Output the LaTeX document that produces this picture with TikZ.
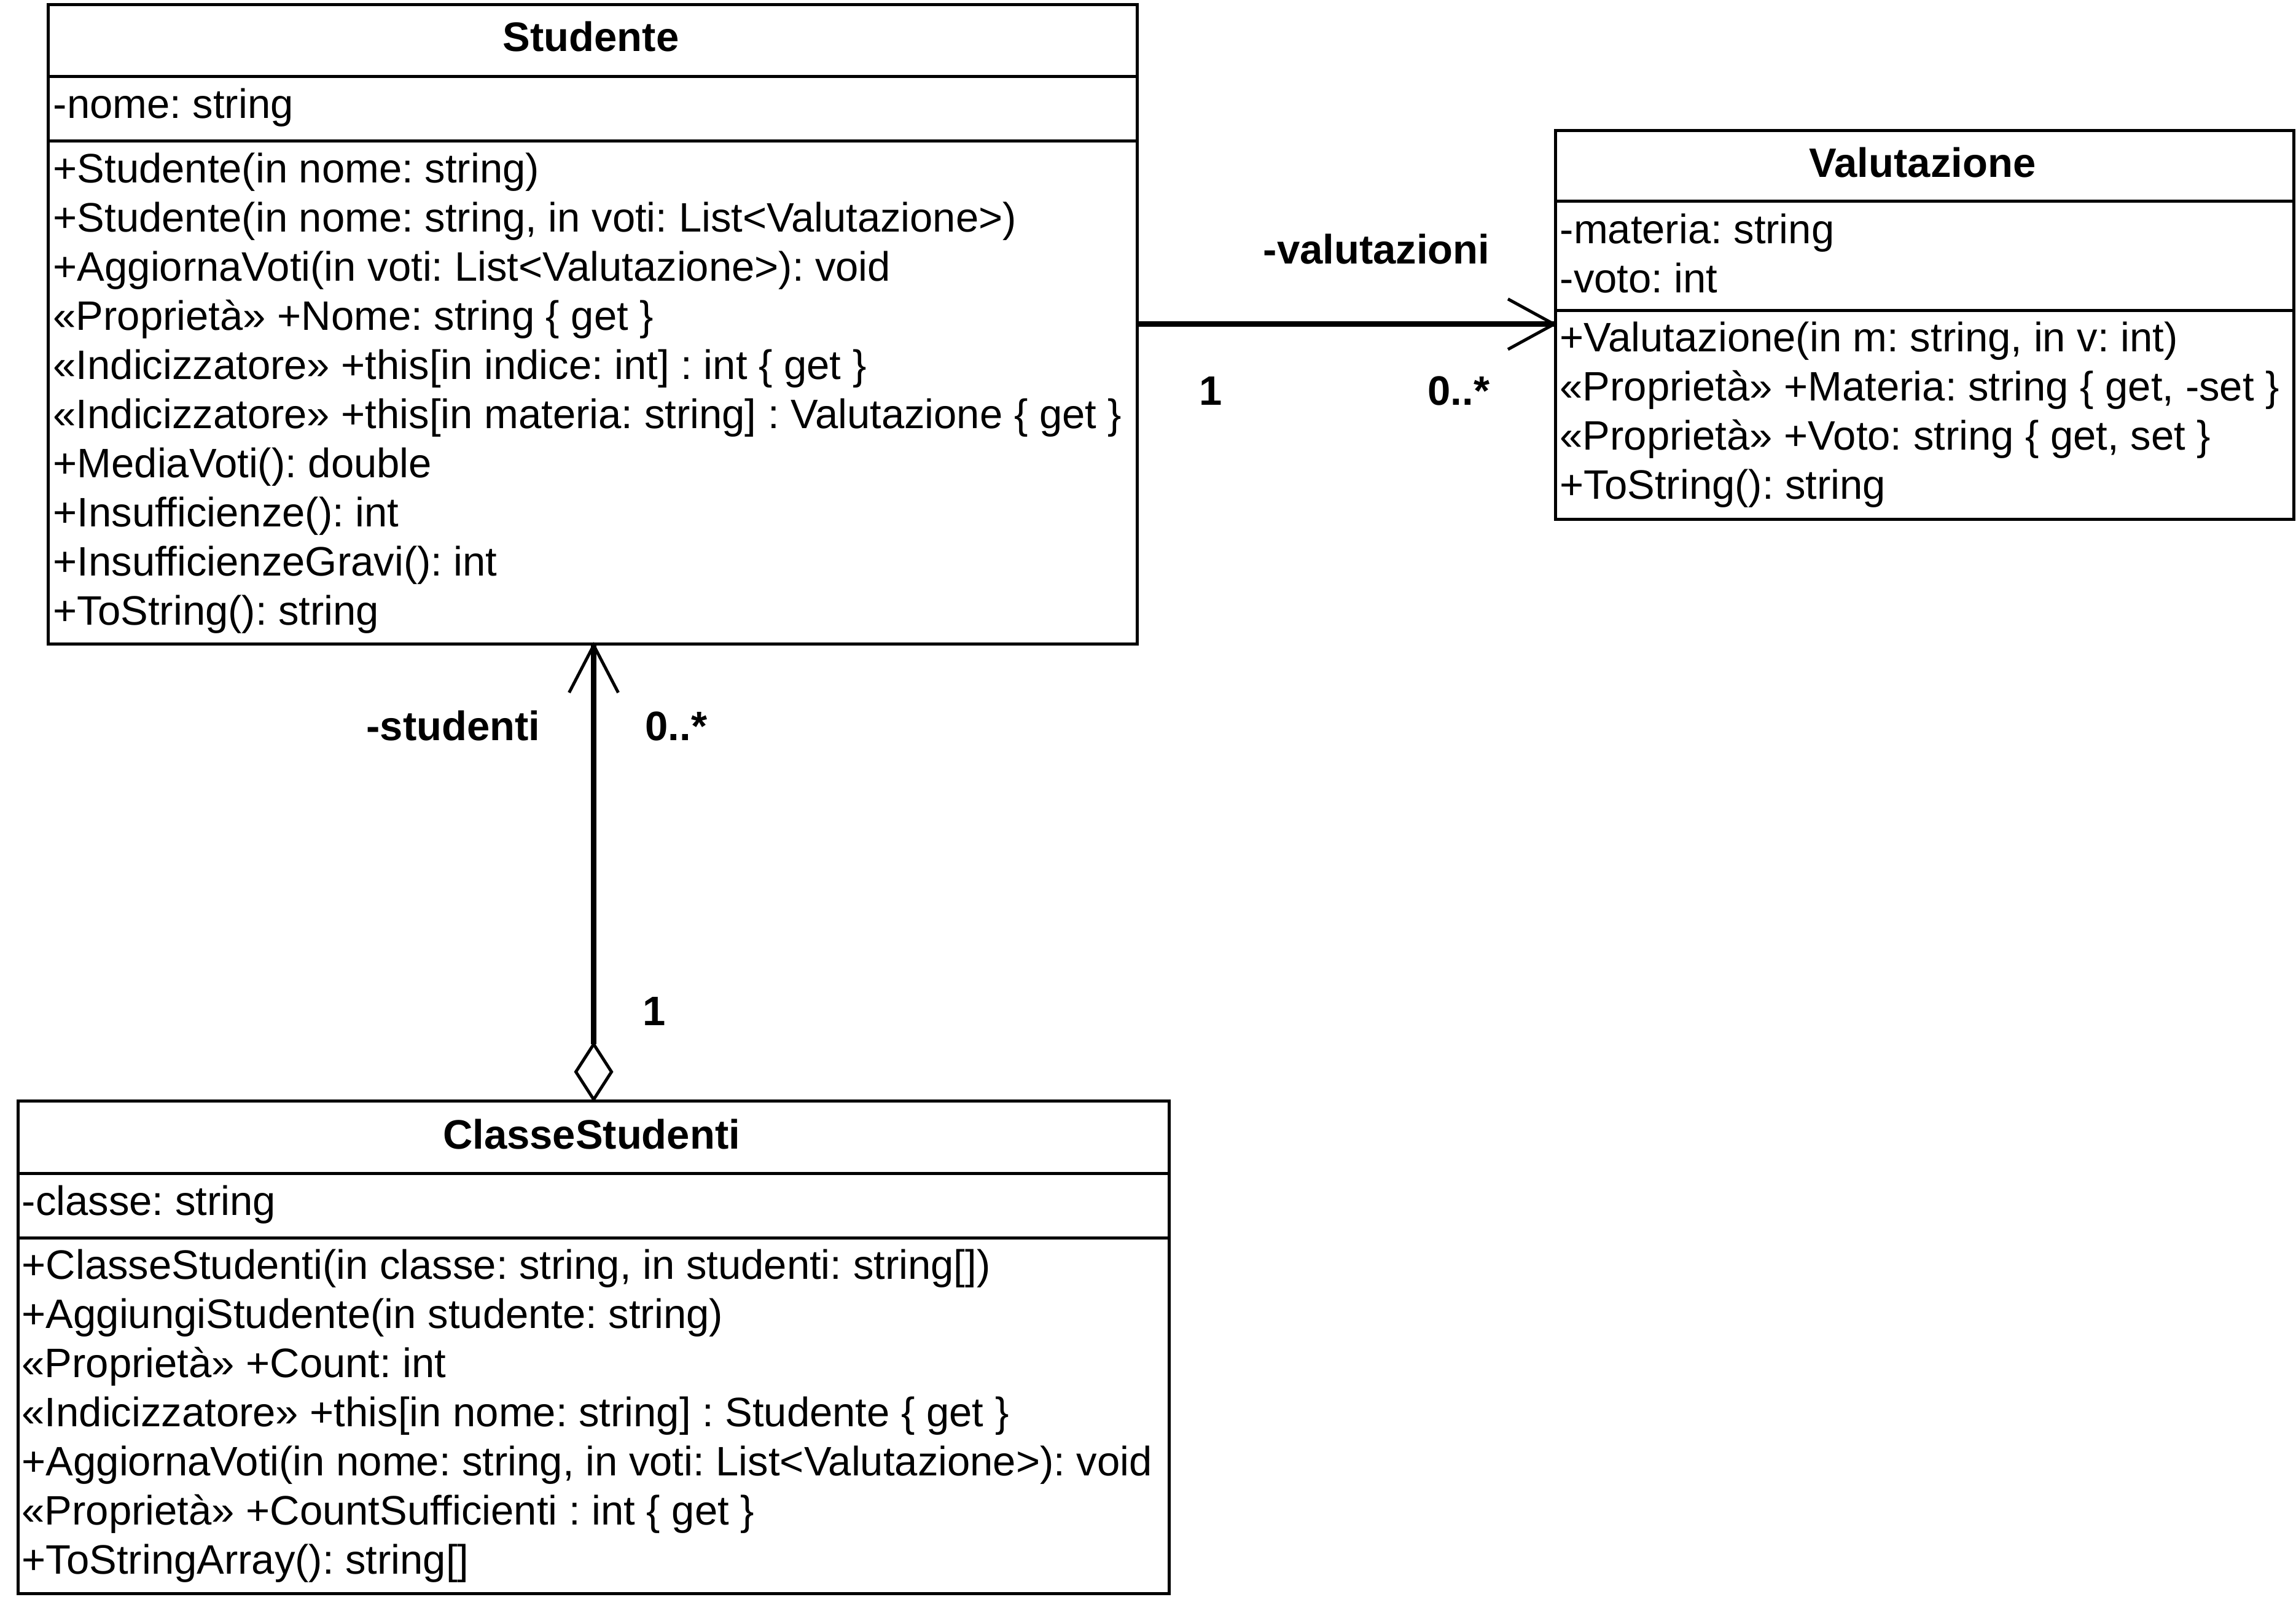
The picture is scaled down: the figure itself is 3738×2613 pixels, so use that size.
\documentclass[tikz,border=0pt]{standalone}
\usepackage{fontspec}
\setmainfont{Liberation Sans}[Ligatures=NoCommon]
\usetikzlibrary{calc}
\frenchspacing
\begin{document}
\begin{tikzpicture}[x=0.01cm, y=-0.01cm,
  box/.style={draw, line width=0.05cm, anchor=north west, inner sep=0pt},
  sep/.style={line width=0.05cm},
  row/.style={anchor=base west, inner sep=0pt, font=\fontsize{19.05pt}{22pt}\selectfont},
  title/.style={anchor=base, inner sep=0pt, font=\fontsize{19.05pt}{22pt}\selectfont\bfseries},
  role/.style={anchor=base, inner sep=0pt, font=\fontsize{19.05pt}{22pt}\selectfont\bfseries},
  assoc/.style={line width=0.09cm},
  head/.style={line width=0.05cm, line join=miter},
]
\useasboundingbox (0,0) rectangle (3738,2613);

% ---------- class Studente ----------
\node[box, minimum width=17.72cm, minimum height=10.40cm] (stud) at (76,5) {};
\node[title] (studT) at (962,84) {Studente};
\draw[sep] (stud.west |- 0,125) -- (stud.east |- 0,125);
\node[row] (s0) at (86,193) {-nome: string};
\draw[sep] (stud.west |- 0,230) -- (stud.east |- 0,230);
\node[row] (s1) at (86,298) {+Studente(in nome: string)};
\node[row] (s2) at (86,378) {+Studente(in nome: string, in voti: List<Valutazione>)};
\node[row] (s3) at (86,458) {+AggiornaVoti(in voti: List<Valutazione>): void};
\node[row] (s4) at (86,538) {«Proprietà» +Nome: string \{ get \}};
\node[row] (s5) at (86,618) {«Indicizzatore» +this[in indice: int] : int \{ get \}};
\node[row] (s6) at (86,698) {«Indicizzatore» +this[in materia: string] : Valutazione \{ get \}};
\node[row] (s7) at (86,778) {+MediaVoti(): double};
\node[row] (s8) at (86,858) {+Insufficienze(): int};
\node[row] (s9) at (86,938) {+InsufficienzeGravi(): int};
\node[row] (s10) at (86,1018) {+ToString(): string};

% ---------- class Valutazione ----------
\node[box, minimum width=12.01cm, minimum height=6.33cm] (valu) at (2530,210) {};
\node[title] (valuT) at (3130,289) {Valutazione};
\draw[sep] (valu.west |- 0,328) -- (valu.east |- 0,328);
\node[row] (v0) at (2539,397) {-materia: string};
\node[row] (v1) at (2539,477) {-voto: int};
\draw[sep] (valu.west |- 0,506) -- (valu.east |- 0,506);
\node[row] (v2) at (2539,573) {+Valutazione(in m: string, in v: int)};
\node[row] (v3) at (2539,653) {«Proprietà» +Materia: string \{ get, -set \}};
\node[row] (v4) at (2539,733) {«Proprietà» +Voto: string \{ get, set \}};
\node[row] (v5) at (2539,813) {+ToString(): string};

% ---------- class ClasseStudenti ----------
\node[box, minimum width=18.73cm, minimum height=8.02cm] (cls) at (27,1790) {};
\node[title] (clsT) at (963,1870) {ClasseStudenti};
\draw[sep] (cls.west |- 0,1910) -- (cls.east |- 0,1910);
\node[row] (c0) at (35,1978) {-classe: string};
\draw[sep] (cls.west |- 0,2015) -- (cls.east |- 0,2015);
\node[row] (c1) at (35,2082) {+ClasseStudenti(in classe: string, in studenti: string[])};
\node[row] (c2) at (35,2162) {+AggiungiStudente(in studente: string)};
\node[row] (c3) at (35,2242) {«Proprietà» +Count: int};
\node[row] (c4) at (35,2322) {«Indicizzatore» +this[in nome: string] : Studente \{ get \}};
\node[row] (c5) at (35,2402) {+AggiornaVoti(in nome: string, in voti: List<Valutazione>): void};
\node[row] (c6) at (35,2482) {«Proprietà» +CountSufficienti : int \{ get \}};
\node[row] (c7) at (35,2562) {+ToStringArray(): string[]};

% ---------- association Studente -> Valutazione ----------
\coordinate (hTip) at (stud.east -| valu.west);
\draw[assoc] (stud.east) -- (hTip);
\draw[head] ($(hTip)+(-75,-41)$) -- (hTip) -- ($(hTip)+(-75,41)$);
\node[role] (lVal) at (2241,430) {-valutazioni};
\node[role] (lOne) at (1971,660) {1};
\node[role] (lMany) at (2375,660) {0..*};

% ---------- aggregation ClasseStudenti <>-> Studente ----------
\coordinate (vTip) at (cls.north |- stud.south);
\coordinate (dTop) at ($(cls.north)+(0,-90)$);
\draw[assoc] (dTop) -- (vTip);
\draw[head, fill=white] (cls.north) -- ++(-29,-45) -- ++(29,-45) -- ++(29,45) -- cycle;
\draw[head] ($(vTip)+(-40,77)$) -- (vTip) -- ($(vTip)+(40,77)$);
\node[role] (lStu) at (738,1206) {-studenti};
\node[role] (lStuMany) at (1101,1206) {0..*};
\node[role] (lStuOne) at (1065,1669) {1};
\end{tikzpicture}
\end{document}
